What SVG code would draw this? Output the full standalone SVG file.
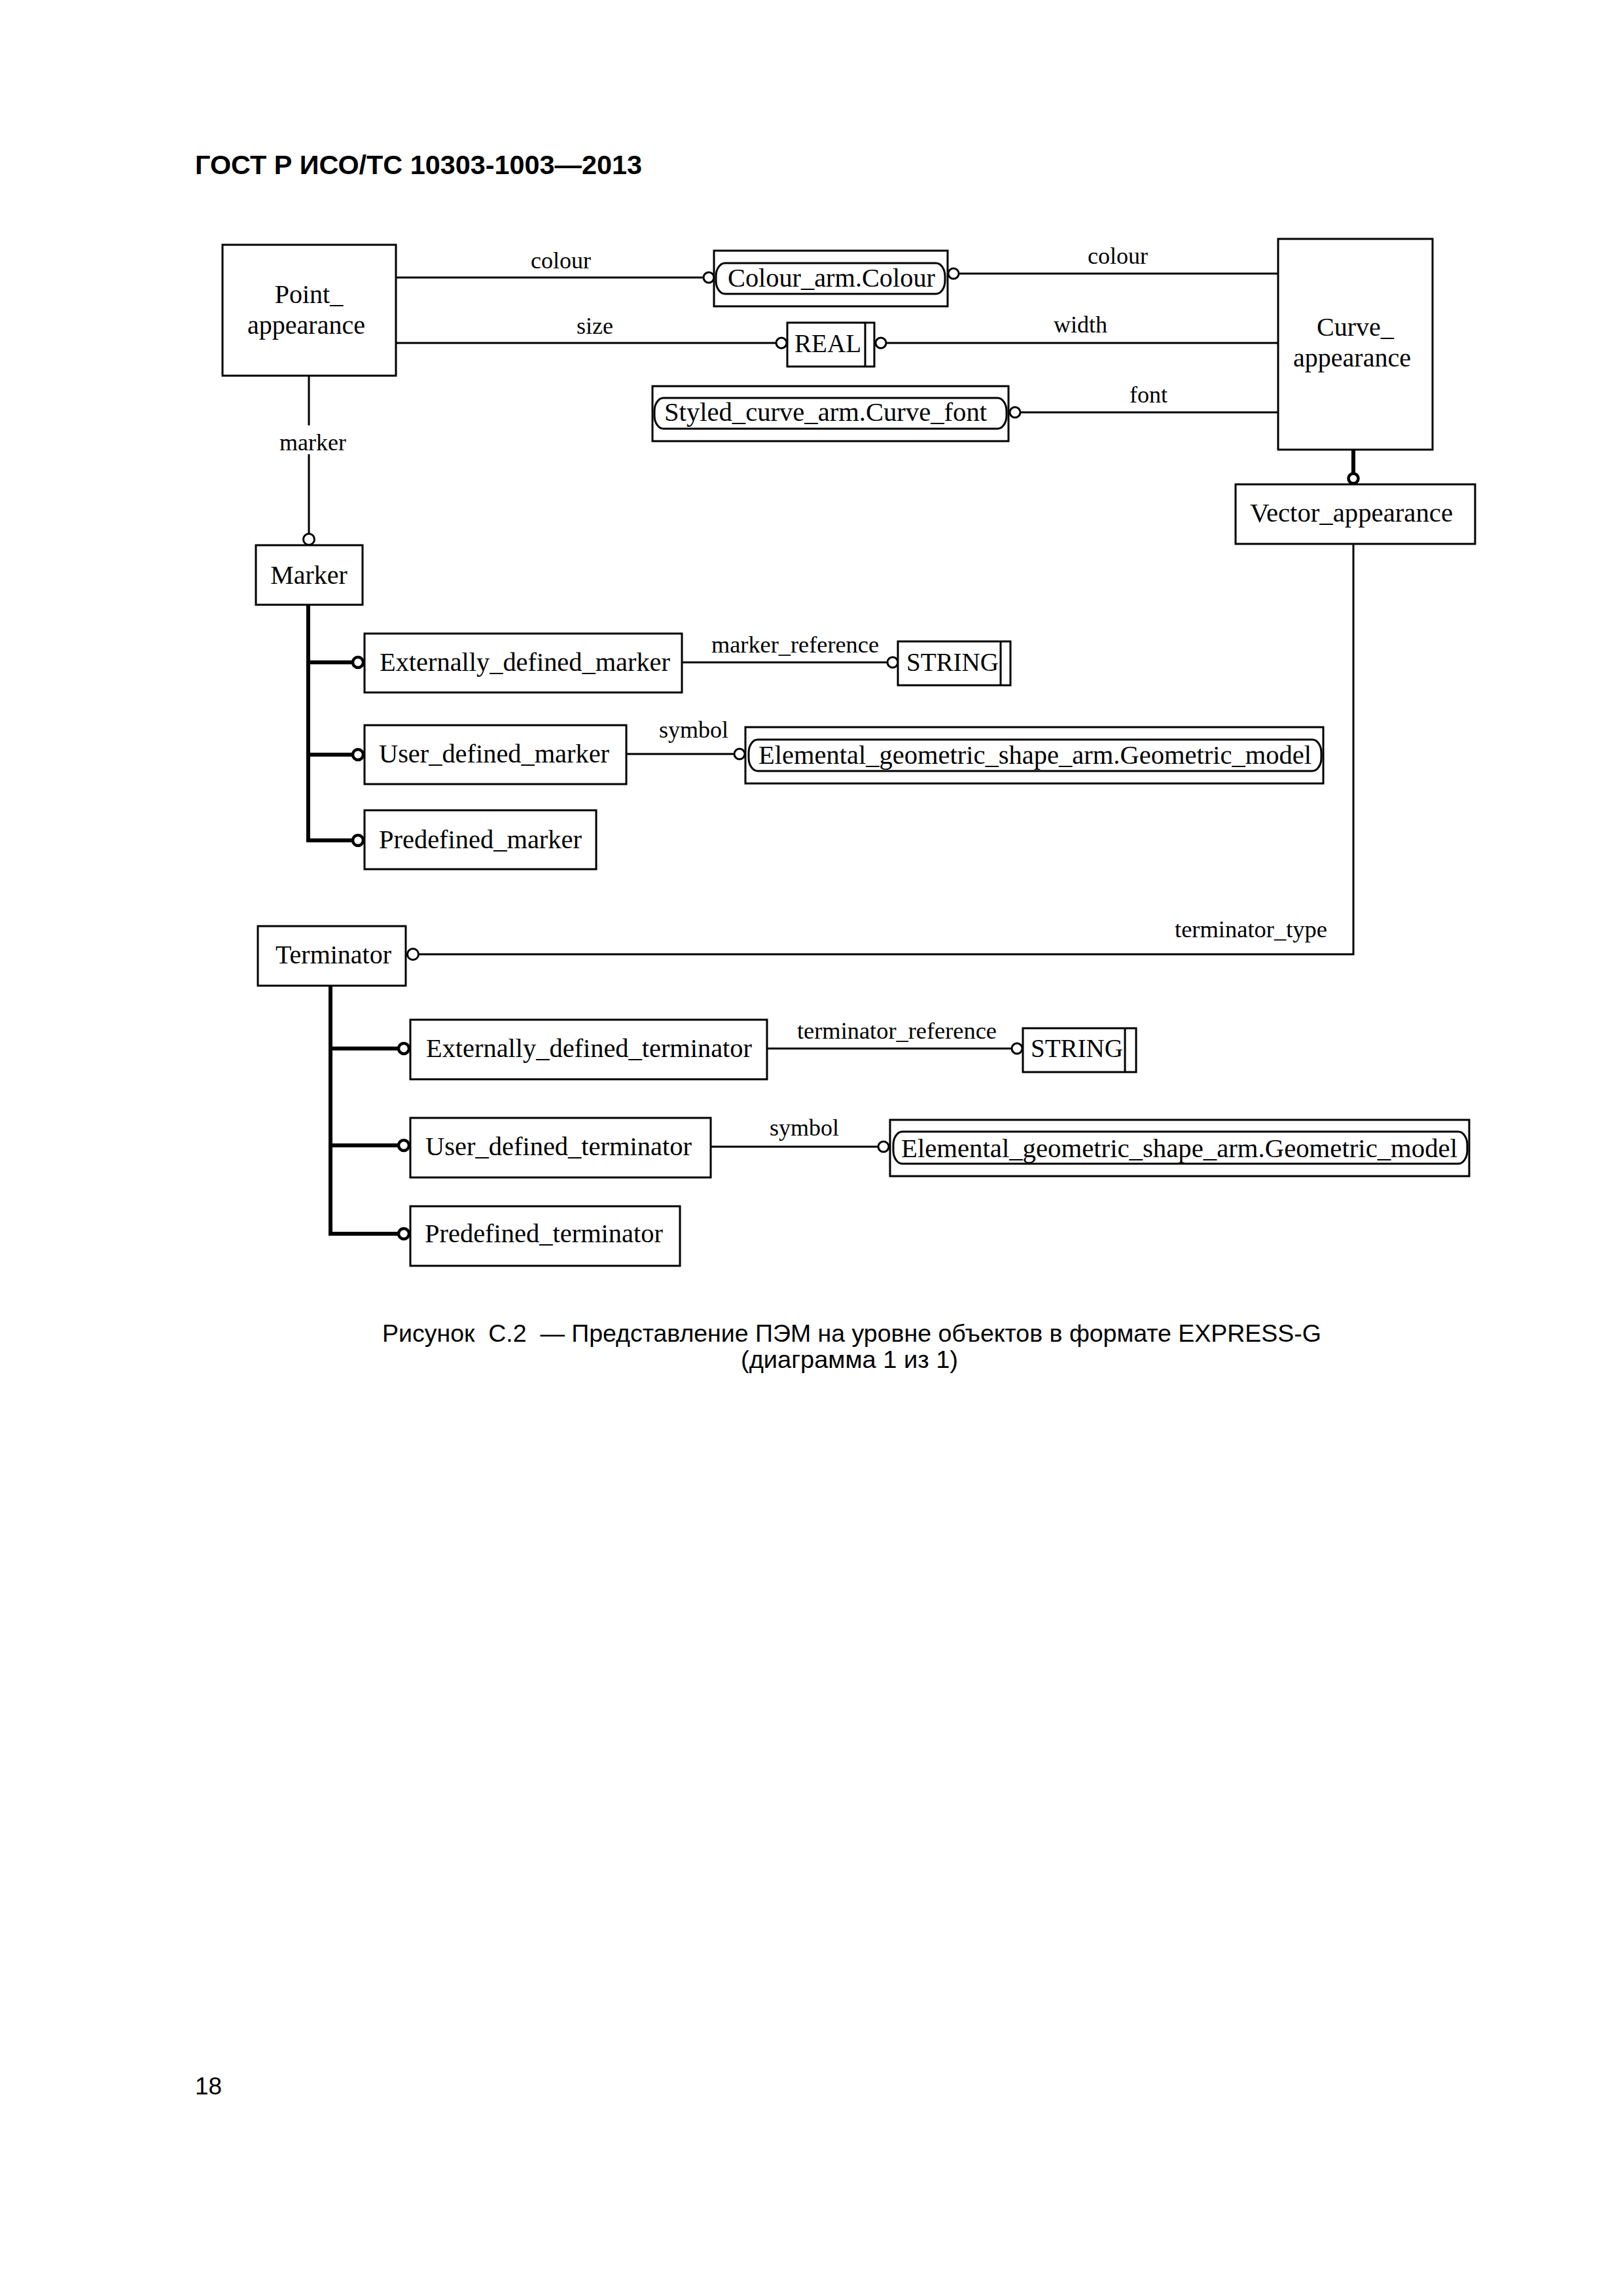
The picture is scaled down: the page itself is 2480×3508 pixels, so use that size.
<svg xmlns="http://www.w3.org/2000/svg" width="2480" height="3508" viewBox="0 0 2480 3508">
<style>
.bx{fill:#fff;stroke:#000;stroke-width:3}
.rb{fill:none;stroke:#000;stroke-width:3}
.ln{fill:none;stroke:#000;stroke-width:3}
.tk{fill:none;stroke:#000;stroke-width:6}
.c{fill:#fff;stroke:#000;stroke-width:3}
.sc{fill:#fff;stroke:#000;stroke-width:4.5}
.e{font-family:"Liberation Serif","Times New Roman",serif;font-size:40px;fill:#000}
.l{font-family:"Liberation Serif","Times New Roman",serif;font-size:36px;fill:#000}
.s{font-family:"Liberation Sans",Arial,sans-serif;fill:#000}
</style>
<rect width="2480" height="3508" fill="#fff"/>
<text class="s" x="298" y="266" font-size="40" font-weight="bold" textLength="683" lengthAdjust="spacingAndGlyphs">ГОСТ Р ИСО/ТС 10303-1003—2013</text>

<g id="connectors">
  <line class="ln" x1="605" y1="424" x2="1075" y2="424"/>
  <circle class="c" cx="1083" cy="424" r="8"/>
  <line class="ln" x1="605" y1="524" x2="1186" y2="524"/>
  <circle class="c" cx="1194" cy="524" r="8"/>
  <circle class="c" cx="1457" cy="418" r="8"/>
  <line class="ln" x1="1465" y1="418" x2="1953" y2="418"/>
  <circle class="c" cx="1346" cy="524" r="8"/>
  <line class="ln" x1="1354" y1="524" x2="1953" y2="524"/>
  <circle class="c" cx="1551" cy="630" r="8"/>
  <line class="ln" x1="1559" y1="630" x2="1953" y2="630"/>
  <line class="tk" x1="2068" y1="687" x2="2068" y2="724"/>
  <circle class="sc" cx="2068" cy="731" r="7.5"/>
  <polyline class="ln" points="2068,831 2068,1458 640,1458"/>
  <circle class="c" cx="631" cy="1458" r="8.5"/>
  <line class="ln" x1="472" y1="574" x2="472" y2="650"/>
  <line class="ln" x1="472" y1="694" x2="472" y2="815"/>
  <circle class="c" cx="472" cy="824" r="8.5"/>
  <polyline class="tk" points="471,924 471,1284 539,1284"/>
  <line class="tk" x1="471" y1="1012" x2="539" y2="1012"/>
  <line class="tk" x1="471" y1="1153" x2="539" y2="1153"/>
  <circle class="sc" cx="547" cy="1012" r="8"/>
  <circle class="sc" cx="547" cy="1153" r="8"/>
  <circle class="sc" cx="547" cy="1284" r="8"/>
  <line class="ln" x1="1042" y1="1012" x2="1356" y2="1012"/>
  <circle class="c" cx="1364" cy="1012" r="8"/>
  <line class="ln" x1="957" y1="1152" x2="1122" y2="1152"/>
  <circle class="c" cx="1130" cy="1152" r="8"/>
  <polyline class="tk" points="505,1506 505,1885 609,1885"/>
  <line class="tk" x1="505" y1="1602" x2="609" y2="1602"/>
  <line class="tk" x1="505" y1="1750" x2="609" y2="1750"/>
  <circle class="sc" cx="617" cy="1602" r="8"/>
  <circle class="sc" cx="617" cy="1750" r="8"/>
  <circle class="sc" cx="617" cy="1885" r="8"/>
  <line class="ln" x1="1172" y1="1602" x2="1546" y2="1602"/>
  <circle class="c" cx="1554" cy="1602" r="8"/>
  <line class="ln" x1="1086" y1="1752" x2="1342" y2="1752"/>
  <circle class="c" cx="1350" cy="1752" r="8"/>
  <text class="l" x="857" y="410" text-anchor="middle">colour</text>
  <text class="l" x="909" y="510" text-anchor="middle">size</text>
  <text class="l" x="1708" y="403" text-anchor="middle">colour</text>
  <text class="l" x="1651" y="508" text-anchor="middle">width</text>
  <text class="l" x="1755" y="615" text-anchor="middle">font</text>
  <text class="l" x="478" y="688" text-anchor="middle">marker</text>
  <text class="l" x="1087" y="997" textLength="256" lengthAdjust="spacingAndGlyphs">marker_reference</text>
  <text class="l" x="1060" y="1127" text-anchor="middle">symbol</text>
  <text class="l" x="1795" y="1432" textLength="233" lengthAdjust="spacingAndGlyphs">terminator_type</text>
  <text class="l" x="1218" y="1587" textLength="305" lengthAdjust="spacingAndGlyphs">terminator_reference</text>
  <text class="l" x="1229" y="1735" text-anchor="middle">symbol</text>
</g>

<g id="point_appearance">
  <rect class="bx" x="340" y="374" width="265" height="200"/>
  <text class="e" x="472" y="463" text-anchor="middle">Point_</text>
  <text class="e" x="468" y="510" text-anchor="middle">appearance</text>
</g>
<g id="colour_arm_colour">
  <rect class="bx" x="1091" y="383" width="357" height="85"/>
  <rect class="rb" x="1094" y="402" width="350" height="47" rx="14" ry="20"/>
  <text class="e" x="1112" y="438" textLength="317" lengthAdjust="spacingAndGlyphs">Colour_arm.Colour</text>
</g>
<g id="real">
  <rect class="bx" x="1203" y="493" width="133" height="67"/>
  <line class="ln" x1="1322" y1="493" x2="1322" y2="560"/>
  <text class="e" x="1214" y="538" textLength="102" lengthAdjust="spacingAndGlyphs">REAL</text>
</g>
<g id="styled_curve_arm_curve_font">
  <rect class="bx" x="997" y="590" width="544" height="84"/>
  <rect class="rb" x="1000" y="608" width="538" height="47" rx="14" ry="20"/>
  <text class="e" x="1015" y="643" textLength="493" lengthAdjust="spacingAndGlyphs">Styled_curve_arm.Curve_font</text>
</g>
<g id="curve_appearance">
  <rect class="bx" x="1953" y="365" width="236" height="322"/>
  <text class="e" x="2071" y="513" text-anchor="middle">Curve_</text>
  <text class="e" x="2066" y="560" text-anchor="middle">appearance</text>
</g>
<g id="vector_appearance">
  <rect class="bx" x="1888" y="740" width="366" height="91"/>
  <text class="e" x="1910" y="797" textLength="310" lengthAdjust="spacingAndGlyphs">Vector_appearance</text>
</g>
<g id="marker">
  <rect class="bx" x="391" y="833" width="163" height="91"/>
  <text class="e" x="472" y="892" text-anchor="middle">Marker</text>
</g>
<g id="externally_defined_marker">
  <rect class="bx" x="557" y="968" width="485" height="90"/>
  <text class="e" x="580" y="1025" textLength="444" lengthAdjust="spacingAndGlyphs">Externally_defined_marker</text>
</g>
<g id="string_1">
  <rect class="bx" x="1372" y="980" width="172" height="67"/>
  <line class="ln" x1="1529" y1="980" x2="1529" y2="1047"/>
  <text class="e" x="1385" y="1025" textLength="141" lengthAdjust="spacingAndGlyphs">STRING</text>
</g>
<g id="user_defined_marker">
  <rect class="bx" x="557" y="1108" width="400" height="90"/>
  <text class="e" x="579" y="1165" textLength="352" lengthAdjust="spacingAndGlyphs">User_defined_marker</text>
</g>
<g id="geometric_model_1">
  <rect class="bx" x="1139" y="1111" width="883" height="86"/>
  <rect class="rb" x="1144" y="1130" width="875" height="48" rx="14" ry="20"/>
  <text class="e" x="1159" y="1167" textLength="845" lengthAdjust="spacingAndGlyphs">Elemental_geometric_shape_arm.Geometric_model</text>
</g>
<g id="predefined_marker">
  <rect class="bx" x="557" y="1238" width="354" height="90"/>
  <text class="e" x="579" y="1296" textLength="310" lengthAdjust="spacingAndGlyphs">Predefined_marker</text>
</g>
<g id="terminator">
  <rect class="bx" x="394" y="1415" width="226" height="91"/>
  <text class="e" x="421" y="1472" textLength="177" lengthAdjust="spacingAndGlyphs">Terminator</text>
</g>
<g id="externally_defined_terminator">
  <rect class="bx" x="627" y="1558" width="545" height="91"/>
  <text class="e" x="651" y="1615" textLength="498" lengthAdjust="spacingAndGlyphs">Externally_defined_terminator</text>
</g>
<g id="string_2">
  <rect class="bx" x="1563" y="1571" width="173" height="67"/>
  <line class="ln" x1="1719" y1="1571" x2="1719" y2="1638"/>
  <text class="e" x="1575" y="1615" textLength="141" lengthAdjust="spacingAndGlyphs">STRING</text>
</g>
<g id="user_defined_terminator">
  <rect class="bx" x="627" y="1708" width="459" height="91"/>
  <text class="e" x="650" y="1765" textLength="407" lengthAdjust="spacingAndGlyphs">User_defined_terminator</text>
</g>
<g id="geometric_model_2">
  <rect class="bx" x="1360" y="1711" width="885" height="86"/>
  <rect class="rb" x="1365" y="1729" width="877" height="49" rx="14" ry="20"/>
  <text class="e" x="1377" y="1768" textLength="850" lengthAdjust="spacingAndGlyphs">Elemental_geometric_shape_arm.Geometric_model</text>
</g>
<g id="predefined_terminator">
  <rect class="bx" x="627" y="1843" width="412" height="91"/>
  <text class="e" x="649" y="1898" textLength="364" lengthAdjust="spacingAndGlyphs">Predefined_terminator</text>
</g>

<text class="s" x="584" y="2050" font-size="37" xml:space="preserve" style="white-space:pre" textLength="1435" lengthAdjust="spacingAndGlyphs">Рисунок  С.2  — Представление ПЭМ на уровне объектов в формате EXPRESS-G</text>
<text class="s" x="1298" y="2090" font-size="37" text-anchor="middle" textLength="332" lengthAdjust="spacingAndGlyphs">(диаграмма 1 из 1)</text>
<text class="s" x="298" y="3200" font-size="37">18</text>
</svg>
